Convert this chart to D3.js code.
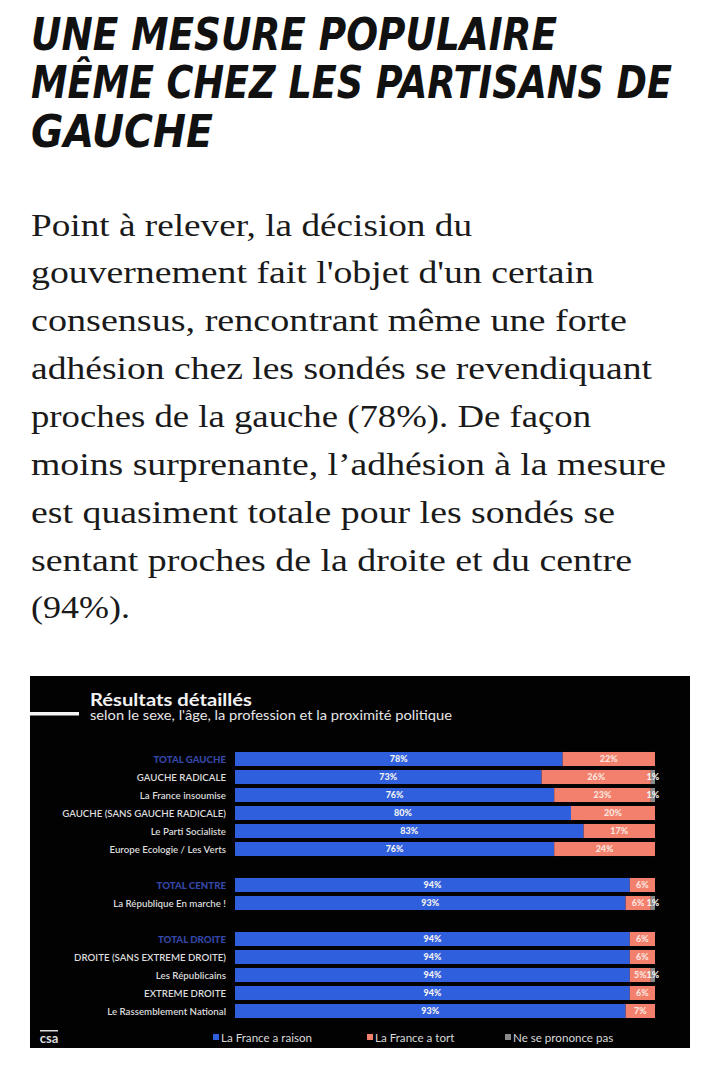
<!DOCTYPE html>
<html><head><meta charset="utf-8">
<script src="https://cdn.jsdelivr.net/npm/d3@7"></script>
<style>
html,body{margin:0;padding:0;background:#fff;}
svg{display:block;}
</style></head>
<body>
<svg id="c" width="720" height="1069"></svg>
<script>
// ---- data ----
const titleLines = ["UNE MESURE POPULAIRE","MÊME CHEZ LES PARTISANS DE","GAUCHE"];
const bodyLines = [
 "Point à relever, la décision du",
 "gouvernement fait l'objet d'un certain",
 "consensus, rencontrant même une forte",
 "adhésion chez les sondés se revendiquant",
 "proches de la gauche (78%). De façon",
 "moins surprenante, l’adhésion à la mesure",
 "est quasiment totale pour les sondés se",
 "sentant proches de la droite et du centre",
 "(94%)."
];
const categories = ["TOTAL GAUCHE","GAUCHE RADICALE","La France insoumise","GAUCHE (SANS GAUCHE RADICALE)","Le Parti Socialiste","Europe Ecologie / Les Verts","TOTAL CENTRE","La République En marche !","TOTAL DROITE","DROITE (SANS EXTREME DROITE)","Les Républicains","EXTREME DROITE","Le Rassemblement National"];
const isTotal = [true,false,false,false,false,false,true,false,true,false,false,false,false];
const groupIdx = [0,0,0,0,0,0,1,1,2,2,2,2,2];
const raison = [78,73,76,80,83,76,94,93,94,94,94,94,93];
const tort   = [22,26,23,20,17,24,6,6,6,6,5,6,7];
const nsp    = [0,1,1,0,0,0,0,1,0,0,1,0,0];
const seriesNames = ["La France a raison","La France a tort","Ne se prononce pas"];
const seriesColors = ["#2f5fdc","#f2806d","#8a8a8a"];
const chartTitle = "Résultats détaillés";
const chartSubtitle = "selon le sexe, l'âge, la profession et la proximité politique";

const svg = d3.select("#c");

// ---- article title ----
const titleBase = [50,98,147];
const titleW = [526,641,182];
svg.selectAll("text.t").data(titleLines).join("text")
  .attr("class","t")
  .attr("x",31).attr("y",(d,i)=>titleBase[i])
  .attr("textLength",(d,i)=>titleW[i]).attr("lengthAdjust","spacingAndGlyphs")
  .style("font-family","'DejaVu Sans', sans-serif").style("font-stretch","condensed")
  .style("font-weight","bold").style("font-style","italic")
  .style("font-size","45px").style("fill","#111")
  .text(d=>d);

// ---- body text ----
const bodyBase = [236,283,331,379,427,475,523,571,618];
const bodyW = [441,563,596,621,560,635,584,601,99];
svg.selectAll("text.b").data(bodyLines).join("text")
  .attr("class","b")
  .attr("x",31).attr("y",(d,i)=>bodyBase[i])
  .attr("textLength",(d,i)=>bodyW[i]).attr("lengthAdjust","spacingAndGlyphs")
  .style("font-family","'Liberation Serif', serif")
  .style("font-size","32px").style("fill","#1a1a1a")
  .text(d=>d);

// ---- chart panel ----
const g = svg.append("g");
g.append("rect").attr("x",30).attr("y",676).attr("width",660).attr("height",372).attr("fill","#020203");
g.append("rect").attr("x",30).attr("y",712).attr("width",49).attr("height",3.5).attr("fill","#f4f4f4");
g.append("text").attr("x",90).attr("y",706)
  .attr("textLength",162).attr("lengthAdjust","spacingAndGlyphs")
  .style("font-family","Lato, sans-serif").style("font-weight","bold").style("font-size","16.5px").style("fill","#f2f2f2")
  .text(chartTitle);
g.append("text").attr("x",90).attr("y",720)
  .attr("textLength",362).attr("lengthAdjust","spacingAndGlyphs")
  .style("font-family","Lato, sans-serif").style("font-size","12.5px").style("fill","#e6e6e6")
  .text(chartSubtitle);

const slots = categories.map((d,i)=>i+groupIdx[i]);
const y = d3.scaleBand().domain(d3.range(15)).range([750,1020]).paddingInner(0.22).paddingOuter(0.11);
const x = d3.scaleLinear().domain([0,100]).range([235,655]);

const rows = categories.map((c,i)=>({c, i, slot:slots[i], vals:[raison[i],tort[i],nsp[i]]}));

// category labels
g.selectAll("text.cat").data(rows).join("text")
  .attr("class","cat")
  .attr("x",226).attr("y",d=>y(d.slot)+y.bandwidth()/2+3.5)
  .attr("text-anchor","end")
  .style("font-family","Lato, sans-serif")
  .style("font-size","9.7px")
  .style("font-weight",d=>isTotal[d.i]?"900":"600")
  .style("fill",d=>isTotal[d.i]?"#3548a8":"#dcdcdc")
  .text(d=>d.c);

// stacked segments
rows.forEach(r=>{
  let acc=0;
  r.vals.forEach((v,k)=>{
    if(v>0){
      const x0=x(acc), x1=x(acc+v);
      g.append("rect").attr("x",x0).attr("y",y(r.slot)).attr("width",x1-x0).attr("height",y.bandwidth())
        .attr("fill",seriesColors[k]);
      g.append("text").attr("x",(x0+x1)/2).attr("y",y(r.slot)+y.bandwidth()/2+3.3)
        .attr("text-anchor","middle")
        .style("font-family","Lato, sans-serif").style("font-weight","900").style("font-size","9px")
        .style("fill",k===1?"#fbe4de":"#f2f2f2")
        .text(v+"%");
    }
    acc+=v;
  });
});

// legend
const legX = [213,367,505];
seriesNames.forEach((n,k)=>{
  g.append("rect").attr("x",legX[k]).attr("y",1034).attr("width",6).attr("height",6).attr("fill",seriesColors[k]);
  g.append("text").attr("x",legX[k]+8).attr("y",1041.5)
    .style("font-family","Lato, sans-serif").style("font-size","11.6px").style("fill","#d8d8d8")
    .text(n);
});

// csa logo
g.append("rect").attr("x",40).attr("y",1030).attr("width",18).attr("height",1.5).attr("fill","#ddd");
g.append("text").attr("x",49).attr("y",1043).attr("text-anchor","middle")
  .style("font-family","Lato, sans-serif").style("font-weight","bold").style("font-size","13px").style("fill","#ddd")
  .text("csa");
</script>
</body></html>
